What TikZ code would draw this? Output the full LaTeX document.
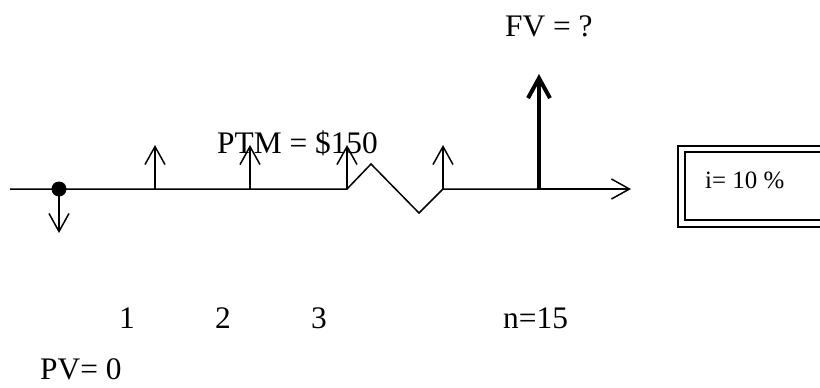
\documentclass[tikz,border=0pt]{standalone}
\usepackage{fontspec}
\setmainfont{Liberation Serif}
\usetikzlibrary{arrows.meta}
\begin{document}
\begin{tikzpicture}[x=1bp,y=-1bp,
  lbl/.style={font=\fontsize{31.5}{36}\selectfont, inner sep=0pt, anchor=base west},
  boxlbl/.style={font=\fontsize{25}{30}\selectfont, inner sep=0pt, anchor=base west},
  axisline/.style={line width=1.5bp, line join=miter},
  flow/.style={line width=1.5bp, -{Straight Barb[length=18bp,width=20bp,line width=1.5bp]}},
  bigflow/.style={line width=4bp, -{Straight Barb[length=20bp,width=22bp,line width=4bp]}},
  frameout/.style={line width=2.5bp},
  framein/.style={line width=1.5bp}]
\useasboundingbox (0,0) rectangle (820,387);
% axis points
\coordinate (start) at (10,189);
\coordinate (t1) at (155,189);
\coordinate (t2) at (250,189);
\coordinate (t3) at (347,189);
\coordinate (zpeak) at (371,164);
\coordinate (ztrough) at (419,213);
\coordinate (t14) at (443,189);
\coordinate (t15) at (539,189);
\coordinate (axend) at (631,189);
% tops of flows
\coordinate (u1) at (155,145);
\coordinate (u2) at (250,145);
\coordinate (u3) at (347,145);
\coordinate (u14) at (443,145);
\coordinate (u15) at (539,74);
\coordinate (d0) at (59,233);
% axis
\draw[axisline] (start) -- (t3) -- (zpeak) -- (ztrough) -- (t14) -- (t15);
\draw[flow] (t15) -- (axend);
% flows
\draw[flow] (t1) -- (u1);
\draw[flow] (t2) -- (u2);
\draw[flow] (t3) -- (u3);
\draw[flow] (t14) -- (u14);
\draw[bigflow] (t15) -- (u15);
\node[circle, fill=black, inner sep=0pt, minimum size=15bp] (t0) at (59,189) {};
\draw[flow] (t0.center) -- (d0);
% labels
\node[lbl] (fv) at (505,36) {FV = ?};
\node[lbl] (ptm) at (217,153) {PTM = \$150};
\node[lbl] (n1) at (119,328) {1};
\node[lbl] (n2) at (215,328) {2};
\node[lbl] (n3) at (311,328) {3};
\node[lbl] (n15) at (503,328) {n=15};
\node[lbl] (pv) at (40,379) {PV= 0};
% rate box
\draw[frameout] (822,146) -- (678,146) -- (678,227) -- (822,227);
\draw[framein] (822,152) -- (685,152) -- (685,220) -- (822,220);
\node[boxlbl] (rate) at (705,188) {i= 10 \%};
\end{tikzpicture}
\end{document}
